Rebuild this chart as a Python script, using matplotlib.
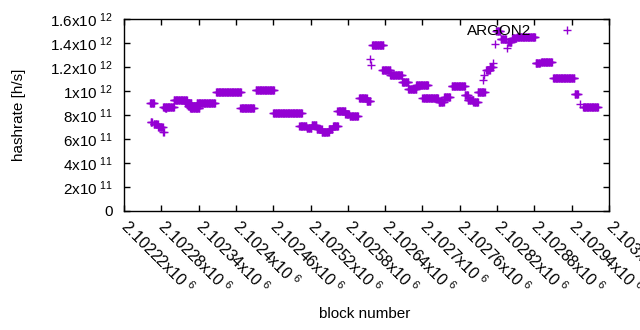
import matplotlib
matplotlib.use("Agg")
import matplotlib.pyplot as plt
import numpy as np
from matplotlib.ticker import FuncFormatter, MultipleLocator

# hashrate is constant over runs of blocks: (first block, last block, h/s)
seg_first = [2102262, 2102263, 2102268, 2102275, 2102283, 2102283, 2102286,
             2102300, 2102318, 2102323, 2102326, 2102337, 2102368, 2102407,
             2102432, 2102460, 2102502, 2102514, 2102522, 2102530, 2102538,
             2102549, 2102556, 2102563, 2102576, 2102583, 2102598, 2102610,
             2102616, 2102617, 2102619, 2102635, 2102648, 2102667, 2102677,
             2102690, 2102700, 2102726, 2102735, 2102747, 2102768, 2102773,
             2102782, 2102789, 2102797, 2102799, 2102802, 2102808, 2102814,
             2102817, 2102819, 2102826, 2102836, 2102837, 2102844, 2102852,
             2102882, 2102891, 2102910, 2102945, 2102953, 2102958]
seg_last = [2102268, 2102265, 2102274, 2102282, 2102284, 2102300, 2102288,
            2102321, 2102328, 2102336, 2102341, 2102366, 2102408, 2102429,
            2102461, 2102506, 2102513, 2102521, 2102529, 2102538, 2102549,
            2102555, 2102564, 2102576, 2102582, 2102596, 2102610, 2102616,
            2102616, 2102617, 2102637, 2102648, 2102667, 2102677, 2102690,
            2102709, 2102725, 2102734, 2102744, 2102768, 2102773, 2102782,
            2102789, 2102800, 2102797, 2102799, 2102808, 2102813, 2102814,
            2102817, 2102825, 2102834, 2102836, 2102843, 2102851, 2102881,
            2102889, 2102908, 2102944, 2102950, 2102953, 2102982]
seg_rate = [8.98e11, 7.4e11, 7.25e11, 7.0e11, 6.6e11, 8.7e11, 8.55e11,
            9.25e11, 9.0e11, 8.75e11, 8.55e11, 9.0e11, 9.95e11, 8.55e11,
            10.05e11, 8.15e11, 7.05e11, 6.95e11, 7.15e11, 6.8e11, 6.55e11,
            6.8e11, 7.1e11, 8.3e11, 8.05e11, 7.9e11, 9.4e11, 9.2e11,
            12.7e11, 12.15e11, 13.83e11, 11.75e11, 11.33e11, 10.77e11, 10.2e11,
            10.5e11, 9.4e11, 9.1e11, 9.5e11, 10.4e11, 9.7e11, 9.25e11,
            9.1e11, 9.9e11, 10.9e11, 11.3e11, 11.75e11, 12.0e11, 12.3e11,
            13.9e11, 15.0e11, 14.3e11, 13.56e11, 14.1e11, 14.4e11, 14.47e11,
            12.3e11, 12.44e11, 11.06e11, 9.75e11, 8.9e11, 8.7e11]

blocks = np.concatenate([np.arange(a, b + 1) for a, b in zip(seg_first, seg_last)])
rates = np.concatenate([np.full(b - a + 1, r) for a, b, r in zip(seg_first, seg_last, seg_rate)])

plt.rcParams["font.family"] = ["Liberation Sans", "DejaVu Sans"]
plt.rcParams["mathtext.fontset"] = "custom"
plt.rcParams["mathtext.rm"] = "Liberation Sans"
plt.rcParams["mathtext.it"] = "Liberation Sans"
plt.rcParams["font.size"] = 11


def sci_label(v, pos):
    if v == 0:
        return "0"
    e = int(np.floor(np.log10(abs(v)) + 1e-9))
    m = v / 10 ** e
    return f"{m:g}x10$\\;^{{{e}}}$"


fig = plt.figure(figsize=(6.4, 3.3), dpi=100)
ax = fig.add_axes([124 / 640, 1 - 211 / 330, 485 / 640, 192 / 330])

ax.plot(blocks, rates, linestyle="none", marker="+", markersize=5.2,
        markeredgewidth=1.0, color="#9400d3", label="ARGON2")

ax.set_xlim(2102220, 2103000)
ax.set_ylim(0, 1.6e12)
ax.xaxis.set_major_locator(MultipleLocator(60))
ax.yaxis.set_major_locator(MultipleLocator(2e11))
ax.xaxis.set_major_formatter(FuncFormatter(sci_label))
ax.yaxis.set_major_formatter(FuncFormatter(sci_label))
ax.tick_params(direction="in", length=4, width=1, top=True, right=True,
               labelsize=11, color="black")
ax.tick_params(axis="y", pad=8)
ax.tick_params(axis="x", pad=9, labelsize=11.5)
for lbl in ax.get_xticklabels():
    lbl.set_rotation(-45)
    lbl.set_ha("left")
    lbl.set_va("center")
    lbl.set_rotation_mode("anchor")
for sp in ax.spines.values():
    sp.set_linewidth(1.0)

ax.set_xlabel("block number")
ax.set_ylabel("hashrate [h/s]")
ax.xaxis.set_label_coords((365 - 124) / 485, -(307 - 211) / 192)
ax.yaxis.set_label_coords(-(124 - 26) / 485, (211 - 115) / 192)

ax.legend(loc="center right", bbox_to_anchor=((598 - 124) / 485, (211 - 31) / 192),
          frameon=False, markerfirst=False, numpoints=1, handlelength=4.0,
          handletextpad=0.35, borderpad=0, borderaxespad=0, fontsize=11)

fig.savefig("out.png", dpi=100)
